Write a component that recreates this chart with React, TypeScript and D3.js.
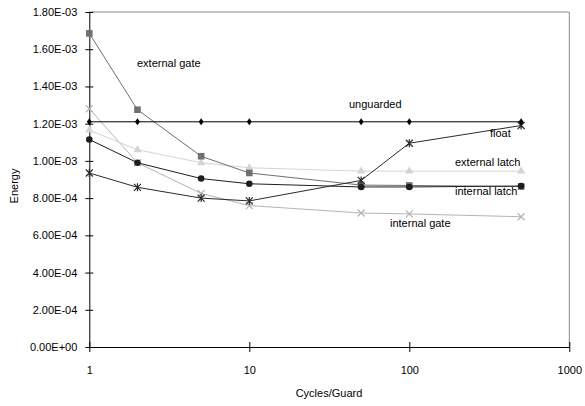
import React, { useRef, useEffect } from "react";
import * as d3 from "d3";

const cycles = [1, 2, 5, 10, 50, 100, 500];
const unguarded = [1.21e-3, 1.21e-3, 1.21e-3, 1.21e-3, 1.21e-3, 1.21e-3, 1.21e-3];
const externalGate = [1.685e-3, 1.275e-3, 1.025e-3, 0.935e-3, 0.87e-3, 0.868e-3, 0.862e-3];
const internalLatch = [1.115e-3, 0.99e-3, 0.905e-3, 0.877e-3, 0.86e-3, 0.86e-3, 0.865e-3];
const floatVals = [0.935e-3, 0.858e-3, 0.8e-3, 0.785e-3, 0.895e-3, 1.095e-3, 1.19e-3];
const internalGate = [1.28e-3, 0.99e-3, 0.825e-3, 0.76e-3, 0.72e-3, 0.715e-3, 0.7e-3];
const externalLatch = [1.165e-3, 1.06e-3, 0.99e-3, 0.963e-3, 0.945e-3, 0.945e-3, 0.945e-3];

const yTicks = [0, 2e-4, 4e-4, 6e-4, 8e-4, 1e-3, 1.2e-3, 1.4e-3, 1.6e-3, 1.8e-3];
const yTickLabels = ["0.00E+00", "2.00E-04", "4.00E-04", "6.00E-04", "8.00E-04", "1.00E-03", "1.20E-03", "1.40E-03", "1.60E-03", "1.80E-03"];
const xTicks = [1, 10, 100, 1000];

const series = [
  { name: "internal gate", values: internalGate, color: "#b4b4b4", marker: "x" },
  { name: "external latch", values: externalLatch, color: "#d4d4d4", marker: "triangle" },
  { name: "external gate", values: externalGate, color: "#707070", marker: "square" },
  { name: "internal latch", values: internalLatch, color: "#1e1e1e", marker: "circle" },
  { name: "float", values: floatVals, color: "#2a2a2a", marker: "star" },
  { name: "unguarded", values: unguarded, color: "#000000", marker: "diamond" },
];

const labels = [
  { text: "external gate", x: 137, y: 67 },
  { text: "unguarded", x: 349, y: 108 },
  { text: "float", x: 490, y: 137 },
  { text: "external latch", x: 455, y: 166 },
  { text: "internal latch", x: 455, y: 195 },
  { text: "internal gate", x: 390, y: 227 },
];

const App = () => {
  const ref = useRef<SVGSVGElement>(null);

  useEffect(() => {
    const svg = d3.select(ref.current);
    svg.selectAll("*").remove();
    const font = "Liberation Sans, Arial, sans-serif";

    const x = d3.scaleLog().domain([1, 1000]).range([89.3, 569.3]);
    const y = d3.scaleLinear().domain([0, 1.8e-3]).range([347, 12]);

    // plot frame (top/right grey)
    svg.append("path")
      .attr("d", `M${x(1)},${y(1.8e-3)}H${x(1000)}V${y(0)}`)
      .attr("fill", "none").attr("stroke", "#8c8c8c").attr("stroke-width", 1);

    // y axis
    const yAxis = d3.axisLeft(y).tickValues(yTicks)
      .tickFormat((d, i) => yTickLabels[i]).tickSize(4).tickSizeOuter(0).tickPadding(8);
    const gy = svg.append("g").attr("transform", `translate(${x(1)},0)`).call(yAxis);
    gy.selectAll(".tick line").attr("x2", -4).attr("x1", 4).attr("stroke", "#000");
    gy.select(".domain").attr("stroke", "#000");
    gy.selectAll("text").attr("font-family", font).attr("font-size", 11).attr("fill", "#000");

    // x axis
    const xAxis = d3.axisBottom(x).tickValues(xTicks)
      .tickFormat(d3.format("d")).tickSize(5).tickSizeOuter(0).tickPadding(14);
    const gx = svg.append("g").attr("transform", `translate(0,${y(0)})`).call(xAxis);
    gx.selectAll(".tick line").attr("y1", -5).attr("y2", 5).attr("stroke", "#000");
    gx.select(".domain").attr("stroke", "#000");
    gx.selectAll("text").attr("font-family", font).attr("font-size", 11).attr("fill", "#000");

    const line = d3.line<number>().x((d, i) => x(cycles[i])).y(d => y(d));

    series.forEach(s => {
      svg.append("path").attr("d", line(s.values))
        .attr("fill", "none").attr("stroke", s.color).attr("stroke-width", 1);
      const g = svg.append("g");
      s.values.forEach((v, i) => {
        const cx = x(cycles[i]);
        const cy = y(v);
        if (s.marker === "circle") {
          g.append("circle").attr("cx", cx).attr("cy", cy).attr("r", 3.3).attr("fill", s.color);
        } else if (s.marker === "square") {
          g.append("rect").attr("x", cx - 3.3).attr("y", cy - 3.3).attr("width", 6.6).attr("height", 6.6).attr("fill", s.color);
        } else if (s.marker === "triangle") {
          g.append("path").attr("d", d3.symbol(d3.symbolTriangle, 30)()!)
            .attr("transform", `translate(${cx},${cy})`).attr("fill", s.color);
        } else if (s.marker === "diamond") {
          g.append("path").attr("d", `M${cx},${cy - 3.5}L${cx + 2.5},${cy}L${cx},${cy + 3.5}L${cx - 2.5},${cy}Z`).attr("fill", s.color);
        } else if (s.marker === "x") {
          g.append("path").attr("d", `M${cx - 3.5},${cy - 3.5}L${cx + 3.5},${cy + 3.5}M${cx - 3.5},${cy + 3.5}L${cx + 3.5},${cy - 3.5}`)
            .attr("stroke", s.color).attr("stroke-width", 1.2);
        } else if (s.marker === "star") {
          g.append("path").attr("d", `M${cx - 3.5},${cy - 3.5}L${cx + 3.5},${cy + 3.5}M${cx - 3.5},${cy + 3.5}L${cx + 3.5},${cy - 3.5}M${cx},${cy - 4}V${cy + 4}`)
            .attr("stroke", s.color).attr("stroke-width", 1.2);
        }
      });
    });

    // series labels
    svg.selectAll(".lbl").data(labels).join("text")
      .attr("x", d => d.x).attr("y", d => d.y)
      .attr("font-family", font).attr("font-size", 11).attr("fill", "#000")
      .text(d => d.text);

    // axis titles
    svg.append("text").attr("x", 329).attr("y", 397).attr("text-anchor", "middle")
      .attr("font-family", font).attr("font-size", 11).text("Cycles/Guard");
    svg.append("text").attr("transform", "translate(18,186) rotate(-90)").attr("text-anchor", "middle")
      .attr("font-family", font).attr("font-size", 11).text("Energy");
  }, []);

  return (
    <svg ref={ref} width={585} height={406}
      style={{ position: "absolute", left: 0, top: 0, background: "#fff" }} />
  );
};

export default App;
